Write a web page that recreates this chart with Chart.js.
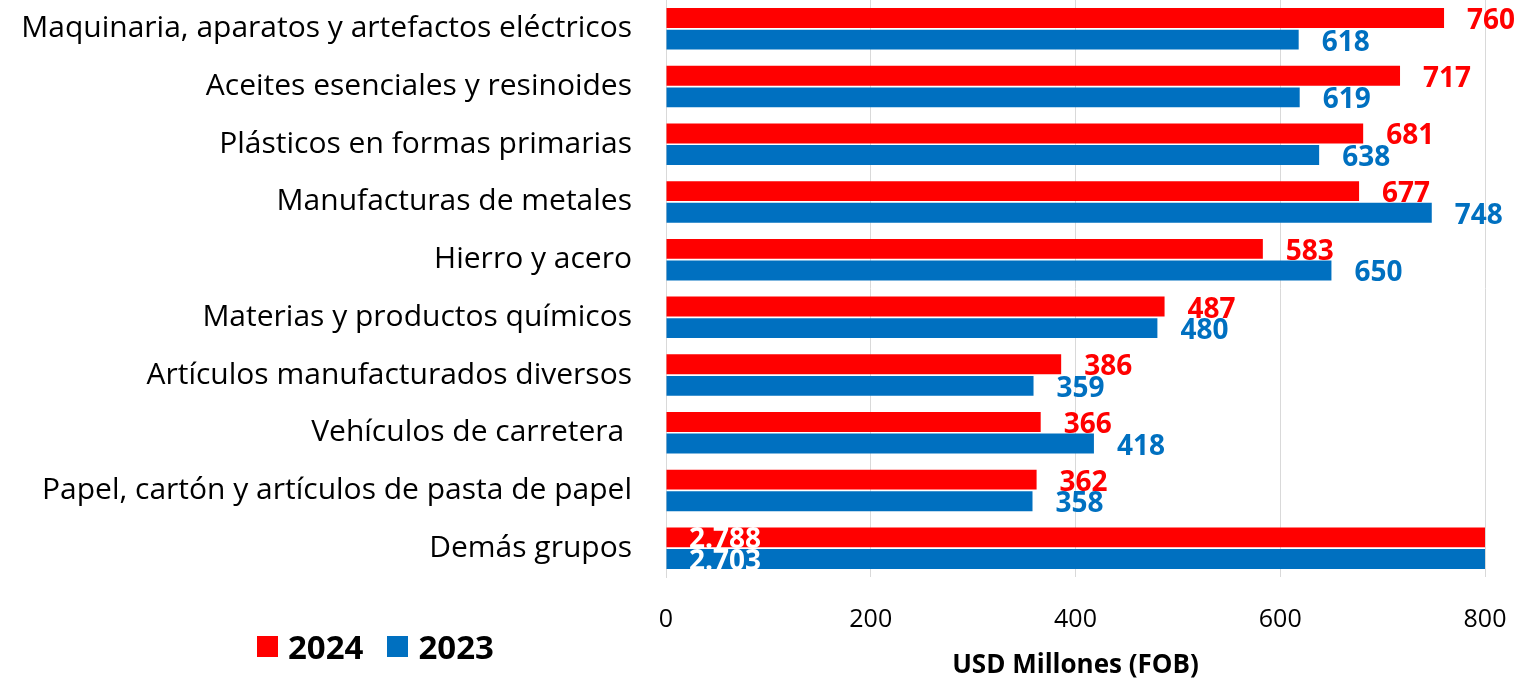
<!DOCTYPE html>
<html>
<head>
<meta charset="utf-8">
<script src="https://cdn.jsdelivr.net/npm/chart.js@4/dist/chart.umd.min.js"></script>
<style>
  html, body { margin: 0; padding: 0; background: #fff; }
  #wrap { position: relative; width: 1522px; height: 680px; }
  #legend { position: absolute; left: 257px; top: 624px; display: flex; align-items: center;
    font-family: "Open Sans", sans-serif; font-weight: bold; font-size: 33px; color: #000; }
  #legend .item { display: flex; align-items: center; margin-right: 24px; }
  #legend .box { width: 21px; height: 21px; margin-right: 10px; }
</style>
</head>
<body>
<div id="wrap">
  <canvas id="chart" width="1522" height="680"></canvas>
  <div id="legend"></div>
</div>
<script>
const categories = [
  'Maquinaria, aparatos y artefactos eléctricos',
  'Aceites esenciales y resinoides',
  'Plásticos en formas primarias',
  'Manufacturas de metales',
  'Hierro y acero',
  'Materias y productos químicos',
  'Artículos manufacturados diversos',
  'Vehículos de carretera ',
  'Papel, cartón y artículos de pasta de papel',
  'Demás grupos'
];
const values2024 = [760, 717, 681, 677, 583, 487, 386, 366, 362, 2788];
const values2023 = [618, 619, 638, 748, 650, 480, 359, 418, 358, 2703];
const seriesLabels = ['2024', '2023'];
const seriesColors = ['#FF0000', '#0070C0'];
const xMin = 0, xMax = 800, xStep = 200;
const axisTitle = 'USD Millones (FOB)';

const FONT = '"Open Sans", sans-serif';

function fmt(v) {
  return String(v).replace(/\B(?=(\d{3})+(?!\d))/g, '.');
}

// value labels at bar ends (white inside when the bar runs off the scale)
const valueLabels = {
  id: 'valueLabels',
  afterDatasetsDraw(chart) {
    const ctx = chart.ctx;
    const area = chart.chartArea;
    ctx.save();
    ctx.font = 'bold 28px ' + FONT;
    ctx.textBaseline = 'middle';
    ctx.textAlign = 'left';
    chart.data.datasets.forEach((ds, i) => {
      const meta = chart.getDatasetMeta(i);
      meta.data.forEach((bar, j) => {
        const v = ds.data[j];
        if (v > xMax) {
          ctx.fillStyle = '#fff';
          ctx.fillText(fmt(v), area.left + 23, bar.y + 3);
        } else {
          ctx.fillStyle = ds.backgroundColor;
          ctx.fillText(fmt(v), bar.x + 23, bar.y + 3);
        }
      });
    });
    ctx.restore();
  }
};

const datasets = [
  { label: seriesLabels[0], data: values2024, backgroundColor: seriesColors[0] },
  { label: seriesLabels[1], data: values2023, backgroundColor: seriesColors[1] }
];

new Chart(document.getElementById('chart').getContext('2d'), {
  type: 'bar',
  data: { labels: categories, datasets },
  options: {
    indexAxis: 'y',
    responsive: false,
    animation: false,
    events: [],
    layout: { padding: { left: 0, right: 37, top: 0, bottom: 0 } },
    datasets: { bar: { categoryPercentage: 0.75, barPercentage: 0.92 } },
    scales: {
      x: {
        min: xMin,
        max: xMax,
        ticks: { stepSize: xStep, color: '#000', padding: 28, font: { family: FONT, size: 25 } },
        grid: { color: '#d9d9d9', lineWidth: 1, drawTicks: false },
        border: { display: false },
        title: { display: true, text: axisTitle, color: '#000', padding: { top: 0, bottom: 0 },
          font: { family: FONT, size: 26, weight: 'bold', lineHeight: 1.1 } },
        afterFit(scale) {
          scale.height = 103;
          scale.paddingLeft = 0;
          scale.paddingRight = 0;
        }
      },
      y: {
        ticks: { color: '#000', padding: 34, font: { family: FONT, size: 30 } },
        grid: { display: false, drawTicks: false },
        border: { display: true, color: '#d9d9d9' },
        afterFit(scale) {
          scale.width = 666;
          scale.paddingTop = 0;
          scale.paddingBottom = 0;
        }
      }
    },
    plugins: {
      legend: { display: false },
      tooltip: { enabled: false }
    }
  },
  plugins: [valueLabels]
});

// legend built from the datasets
const legendEl = document.getElementById('legend');
datasets.forEach(ds => {
  const item = document.createElement('div');
  item.className = 'item';
  item.innerHTML = '<span class="box" style="background:' + ds.backgroundColor + '"></span><span>' + ds.label + '</span>';
  legendEl.appendChild(item);
});
</script>
</body>
</html>
